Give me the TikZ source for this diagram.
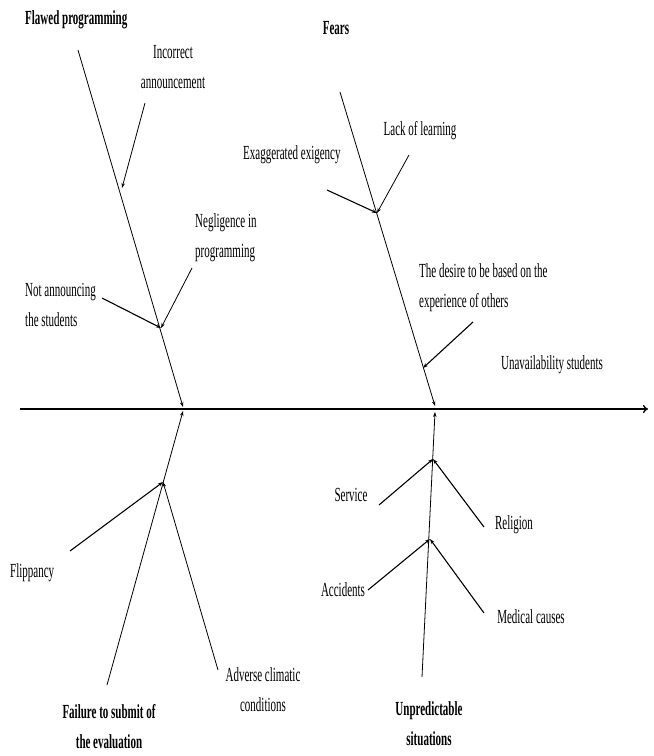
\documentclass[tikz,border=0pt]{standalone}
\usepackage{fontspec}
\setmainfont[FakeStretch=0.55]{Liberation Serif}
\usetikzlibrary{arrows.meta}

\begin{document}
\begin{tikzpicture}[x=1pt, y=-1pt,
        lbl/.style={inner sep=0pt, font=\fontsize{20}{30}\selectfont},
        cause/.style={lbl, font=\fontsize{20}{30}\selectfont\bfseries},
        bone/.style={line width=0.8pt, -{Stealth[length=5pt,width=3.5pt]}},
        rib/.style={line width=1.1pt, -{Stealth[length=5pt,width=3.5pt]}},
        spine/.style={line width=1.3pt, -{To[length=5pt,width=8pt]}}]

      \useasboundingbox (0,0) rectangle (654,756);

      % spine
      \coordinate (s0) at (20,409);
      \coordinate (s1) at (648,409);
      \draw[spine] (s0) -- (s1);

      % top left: flawed programming
      \node[cause, anchor=west] (flawed) at (25,20) {Flawed programming};
      \node[lbl, align=center] (incorr) at (173,67) {Incorrect\\announcement};
      \node[lbl, align=left, anchor=west] (neglig) at (195,238) {Negligence in\\programming};
      \node[lbl, align=left, anchor=west] (notann) at (25,305) {Not announcing\\the students};
      \coordinate (fp0) at (78,50);
      \coordinate (fp1) at (183,407);
      \coordinate (fpj) at (161,328);
      \coordinate (incorr0) at (145,103);
      \coordinate (incorr1) at (122,188);
      \coordinate (neglig0) at (192,268);
      \coordinate (notann0) at (102,298);
      \draw[bone] (fp0) -- (fp1);
      \draw[bone] (incorr0) -- (incorr1);
      \draw[bone] (neglig0) -- (fpj);
      \draw[rib] (notann0) -- (fpj);

      % top right: fears
      \node[cause] (fears) at (336,28) {Fears};
      \node[lbl, anchor=west] (exag) at (243,155) {Exaggerated exigency};
      \node[lbl] (lack) at (420,131) {Lack of learning};
      \node[lbl, align=left, anchor=west] (desire) at (419,288)
        {The desire to be based on the\\experience of others};
      \node[lbl] (unavail) at (552,365) {Unavailability students};
      \coordinate (fe0) at (340,92);
      \coordinate (fe1) at (435,406);
      \coordinate (fej) at (377,213);
      \coordinate (exag0) at (327,190);
      \coordinate (lack0) at (409,155);
      \coordinate (desire0) at (473,322);
      \coordinate (desire1) at (423,368);
      \draw[bone] (fe0) -- (fe1);
      \draw[rib] (exag0) -- (fej);
      \draw[bone] (lack0) -- (fej);
      \draw[rib] (desire0) -- (desire1);

      % bottom left: failure to submit
      \node[cause, align=center] (failure) at (109,727) {Failure to submit of\\the evaluation};
      \node[lbl, anchor=west] (flipp) at (10,573) {Flippancy};
      \node[lbl, align=center] (advers) at (263,690) {Adverse climatic\\conditions};
      \coordinate (fa0) at (107,685);
      \coordinate (fa1) at (183,411);
      \coordinate (faj) at (163,482);
      \coordinate (flipp0) at (70,551);
      \coordinate (advers0) at (218,670);
      \draw[bone] (fa0) -- (fa1);
      \draw[rib] (flipp0) -- (faj);
      \draw[bone] (advers0) -- (faj);

      % bottom right: unpredictable situations
      \node[cause, align=center] (unpred) at (429,724) {Unpredictable\\situations};
      \node[lbl] (service) at (351,495) {Service};
      \node[lbl] (relig) at (514,525) {Religion};
      \node[lbl] (accid) at (343,590) {Accidents};
      \node[lbl] (medic) at (531,617) {Medical causes};
      \coordinate (un0) at (422,677);
      \coordinate (un1) at (435,412);
      \coordinate (unj1) at (433,459);
      \coordinate (unj2) at (430,539);
      \coordinate (service0) at (379,505);
      \coordinate (relig0) at (484,527);
      \coordinate (accid0) at (368,590);
      \coordinate (medic0) at (484,613);
      \draw[bone] (un0) -- (un1);
      \draw[rib] (service0) -- (unj1);
      \draw[rib] (relig0) -- (unj1);
      \draw[rib] (accid0) -- (unj2);
      \draw[rib] (medic0) -- (unj2);
    \end{tikzpicture}
\end{document}
